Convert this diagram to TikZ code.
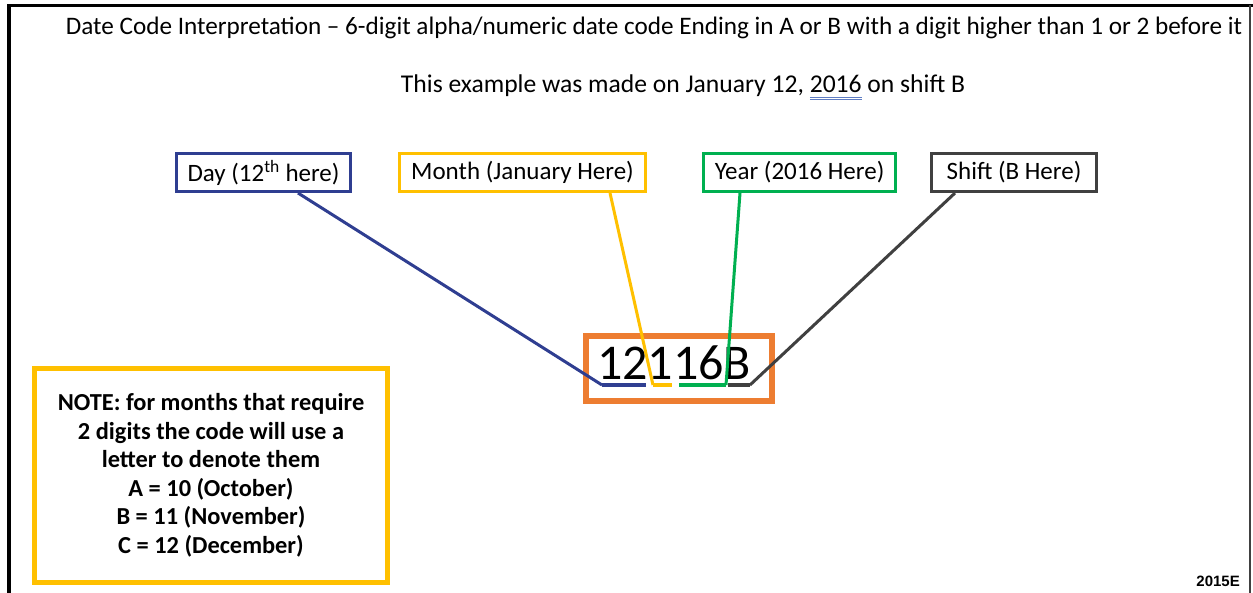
\documentclass[tikz,border=0pt]{standalone}
\usepackage{fontspec}
\setmainfont{Carlito}
\newfontfamily\arialfont{Liberation Sans}
\usetikzlibrary{calc}

\definecolor{dayblue}{RGB}{47,62,145}
\definecolor{monthyellow}{RGB}{255,192,0}
\definecolor{yeargreen}{RGB}{0,176,80}
\definecolor{shiftgray}{RGB}{64,64,64}
\definecolor{codeorange}{RGB}{237,125,49}
\definecolor{markblue}{RGB}{95,125,195}

\newcommand{\fsz}[2]{\fontsize{#1}{#2}\selectfont}
\newcommand{\dblul}[1]{\setbox0\hbox{#1}%
  \rlap{\color{markblue}\rule[-4.5pt]{\wd0}{0.9pt}}%
  \rlap{\color{markblue}\rule[-7pt]{\wd0}{0.9pt}}\box0\relax}

\begin{document}
\begin{tikzpicture}[
  x=1pt, y=-1pt,
  heading/.style={font=\fsz{25.2}{29}, inner sep=0pt, anchor=base},
  field/.style={draw, line width=3pt, minimum height=38pt, inner sep=0pt,
    font=\fsz{25}{29}},
  link/.style={line width=3pt},
  underbar/.style={line width=4pt},
]

% Page frame
\useasboundingbox (0,0) rectangle (1253,593);
\draw[line width=3.5pt] (9,593) -- (9,5.5) -- (1253,5.5);
\draw[line width=1.5pt, shiftgray] (1250,5) -- (1250,593);

% Headings
\node[heading] (title) at (654,35) {Date Code Interpretation -- 6-digit alpha/numeric date code Ending in A or B with a digit higher than 1 or 2 before it};
\node[heading, font=\fsz{25.6}{29}] (example) at (683,93) {This example was made on January 12, \dblul{2016} on shift B};

% Fields
\node[field, draw=dayblue, minimum width=174pt] (day) at (263.5,172.5) {Day (12\textsuperscript{th} here)};
\node[field, draw=monthyellow, minimum width=246pt] (month) at (522.5,172.5) {Month (January Here)};
\node[field, draw=yeargreen, minimum width=192pt] (year) at (799.5,172.5) {Year (2016 Here)};
\node[field, draw=shiftgray, minimum width=165pt] (shift) at (1014,172.5) {Shift (B Here)};

% Date code
\node[draw=codeorange, line width=6pt, minimum width=186pt, minimum height=65pt, inner sep=0pt] (codebox) at (679,368.5) {};
\node[font=\fsz{50}{58}, inner sep=0pt, anchor=base west] (code) at (597,380) {12116B};

% Digit underlines
\coordinate (dayL) at (602,385);   \coordinate (dayR) at (646,385);
\coordinate (monthL) at (653,385); \coordinate (monthR) at (672,385);
\coordinate (yearL) at (679,385);  \coordinate (yearR) at (726,385);
\coordinate (shiftL) at (728,385); \coordinate (shiftR) at (750,385);
\draw[underbar, dayblue] (dayL) -- (dayR);
\draw[underbar, monthyellow] (monthL) -- (monthR);
\draw[underbar, yeargreen] (yearL) -- (yearR);
\draw[underbar, shiftgray] (shiftL) -- (shiftR);

% Connectors
\draw[link, dayblue] ($(day.south)+(34.5,0)$) -- (dayL);
\draw[link, monthyellow] ($(month.south)+(87.5,0)$) -- (monthL);
\draw[link, yeargreen] ($(year.south)+(-59.5,0)$) -- (yearR);
\draw[link, shiftgray] ($(shift.south)+(-59,0)$) -- (shiftR);

% Note
\node[draw=monthyellow, line width=5pt, minimum width=353pt, minimum height=214pt,
  align=center, font=\bfseries\fsz{24.4}{28.5}] (note) at (211,475.5)
  {NOTE: for months that require\\2 digits the code will use a\\letter to denote them\\A = 10 (October)\\B = 11 (November)\\C = 12 (December)};

% Figure number
\node[anchor=base east, inner sep=0pt, font=\arialfont\bfseries\fsz{15}{17}] (fignum) at (1240,586) {2015E};

\end{tikzpicture}
\end{document}
